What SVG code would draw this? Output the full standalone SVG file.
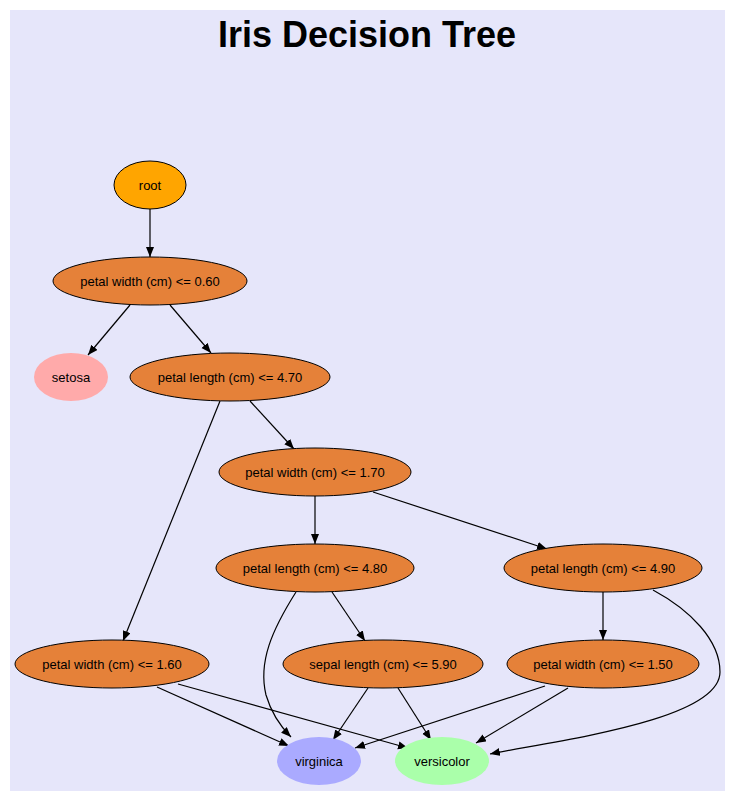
<svg xmlns="http://www.w3.org/2000/svg" width="735" height="801" viewBox="0 0 735 801">
<style>
.t{font-family:"Liberation Sans",Arial,sans-serif;font-size:13px;text-anchor:middle;dominant-baseline:central;fill:#000}
.n{fill:#e58139;stroke:#000;stroke-width:1}
.e{fill:none;stroke:#000;stroke-width:1.2}
.title{font-family:"Liberation Sans",Arial,sans-serif;font-size:36px;font-weight:bold;text-anchor:middle;fill:#000}
</style>
<defs>
<marker id="ah" markerUnits="userSpaceOnUse" markerWidth="12" markerHeight="9" refX="10" refY="4" orient="auto">
<path d="M0,0 L10,4 L0,8 z" fill="#000"/>
</marker>
</defs>
<rect x="0" y="0" width="735" height="801" fill="#fff"/>
<rect x="10" y="10" width="715" height="781" fill="#e6e6fa"/>
<text class="title" x="367" y="47">Iris Decision Tree</text>
<g id="connectors">
<path class="e" marker-end="url(#ah)" d="M150,209 L150,257"/>
<path class="e" marker-end="url(#ah)" d="M130,305 L88,355"/>
<path class="e" marker-end="url(#ah)" d="M170,305 L211,353"/>
<path class="e" marker-end="url(#ah)" d="M250,401 L294,449"/>
<path class="e" marker-end="url(#ah)" d="M220,401 L123,641"/>
<path class="e" marker-end="url(#ah)" d="M315,496 L315,544"/>
<path class="e" marker-end="url(#ah)" d="M373,492 L547,549"/>
<path class="e" marker-end="url(#ah)" d="M332,592 L365,641"/>
<path class="e" marker-end="url(#ah)" d="M296,592 C272,630 258,662 266,695 C271,712 280,726 291,737"/>
<path class="e" marker-end="url(#ah)" d="M603,592 L603,640"/>
<path class="e" marker-end="url(#ah)" d="M653,590 C690,610 720,640 720,672 C720,720 560,740 490,754"/>
<path class="e" marker-end="url(#ah)" d="M157,687 L289,746"/>
<path class="e" marker-end="url(#ah)" d="M178,684 L408,748"/>
<path class="e" marker-end="url(#ah)" d="M368,688 L333,740"/>
<path class="e" marker-end="url(#ah)" d="M398,688 L431,740"/>
<path class="e" marker-end="url(#ah)" d="M545,686 L355,748"/>
<path class="e" marker-end="url(#ah)" d="M568,688 L476,743"/>
</g>
<g id="root"><ellipse cx="150" cy="185" rx="36" ry="24" fill="#ffa500" stroke="#000"/><text class="t" x="150" y="185">root</text></g>
<g id="n_pw060"><ellipse class="n" cx="150" cy="281" rx="97" ry="24"/><text class="t" x="150" y="281">petal width (cm) &lt;= 0.60</text></g>
<g id="setosa"><ellipse cx="71" cy="377" rx="37" ry="24" fill="#ffaaaa"/><text class="t" x="71" y="377">setosa</text></g>
<g id="n_pl470"><ellipse class="n" cx="230" cy="377" rx="100" ry="24"/><text class="t" x="230" y="377">petal length (cm) &lt;= 4.70</text></g>
<g id="n_pw170"><ellipse class="n" cx="315" cy="472" rx="96" ry="24"/><text class="t" x="315" y="472">petal width (cm) &lt;= 1.70</text></g>
<g id="n_pl480"><ellipse class="n" cx="315" cy="568" rx="99" ry="24"/><text class="t" x="315" y="568">petal length (cm) &lt;= 4.80</text></g>
<g id="n_pl490"><ellipse class="n" cx="603" cy="568" rx="99" ry="24"/><text class="t" x="603" y="568">petal length (cm) &lt;= 4.90</text></g>
<g id="n_pw160"><ellipse class="n" cx="112" cy="664" rx="97" ry="24"/><text class="t" x="112" y="664">petal width (cm) &lt;= 1.60</text></g>
<g id="n_sl590"><ellipse class="n" cx="383" cy="664" rx="100" ry="24"/><text class="t" x="383" y="664">sepal length (cm) &lt;= 5.90</text></g>
<g id="n_pw150"><ellipse class="n" cx="603" cy="664" rx="96" ry="24"/><text class="t" x="603" y="664">petal width (cm) &lt;= 1.50</text></g>
<g id="virginica"><ellipse cx="319" cy="761" rx="42" ry="24" fill="#aaaaff"/><text class="t" x="319" y="761">virginica</text></g>
<g id="versicolor"><ellipse cx="442" cy="761" rx="47" ry="24" fill="#aaffaa"/><text class="t" x="442" y="761">versicolor</text></g>
</svg>
